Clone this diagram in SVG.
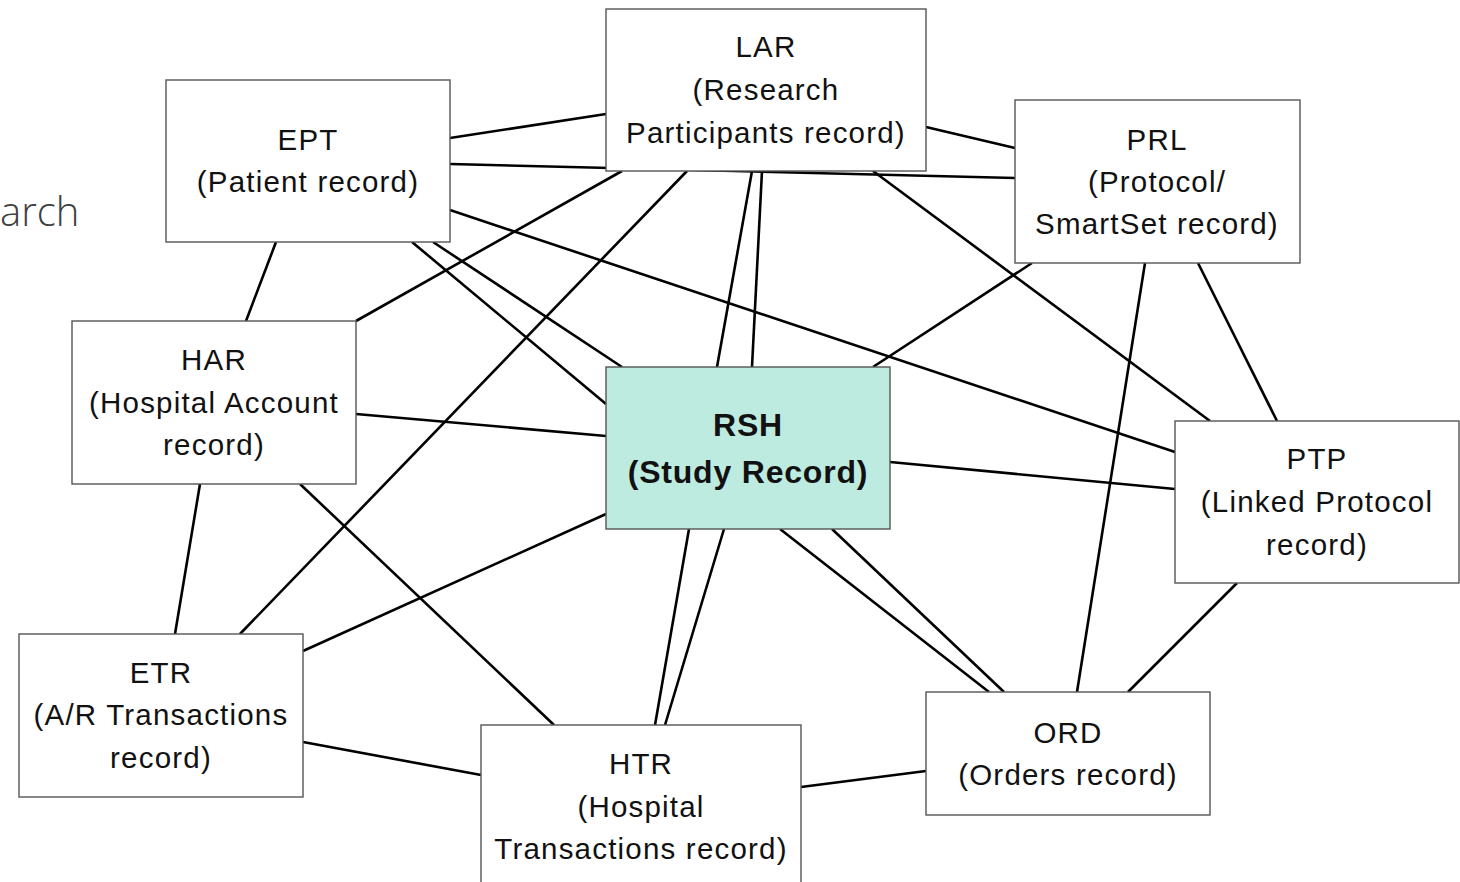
<svg xmlns="http://www.w3.org/2000/svg" width="1460" height="882" viewBox="0 0 1460 882">
<style>
.box{fill:#ffffff;stroke:#555555;stroke-width:1.4}
.hub{fill:#bdebe0;stroke:#555555;stroke-width:1.4}
.lbl{font-family:"Liberation Sans",Arial,sans-serif;font-size:29.5px;fill:#111111;text-anchor:middle;letter-spacing:1.2px}
.bold{font-weight:bold;font-size:32px;letter-spacing:0.8px}
.conn line{stroke:#000000;stroke-width:2.6;stroke-linecap:butt}
</style>
<rect width="1460" height="882" fill="#ffffff"/>
<text x="0" y="226" font-family="'Open Sans','Noto Sans',sans-serif" font-weight="300" font-size="40" fill="#404040">arch</text>
<g id="connectors" class="conn">
<line x1="450" y1="138" x2="606" y2="114"/>
<line x1="450" y1="164" x2="1015" y2="178"/>
<line x1="926" y1="127" x2="1015" y2="148"/>
<line x1="276" y1="242" x2="246" y2="321"/>
<line x1="412" y1="242" x2="606" y2="404"/>
<line x1="433" y1="242" x2="622" y2="367"/>
<line x1="356" y1="321" x2="622" y2="171"/>
<line x1="240" y1="634" x2="687" y2="171"/>
<line x1="752" y1="171" x2="717" y2="367"/>
<line x1="762" y1="171" x2="752" y2="367"/>
<line x1="873" y1="171" x2="1210" y2="421"/>
<line x1="450" y1="210" x2="1175" y2="452"/>
<line x1="873" y1="367" x2="1032" y2="263"/>
<line x1="1145" y1="263" x2="1077" y2="692"/>
<line x1="1198" y1="263" x2="1277" y2="421"/>
<line x1="356" y1="414" x2="606" y2="436"/>
<line x1="890" y1="462" x2="1175" y2="489"/>
<line x1="200" y1="484" x2="175" y2="634"/>
<line x1="300" y1="484" x2="554" y2="725"/>
<line x1="303" y1="651" x2="606" y2="514"/>
<line x1="303" y1="742" x2="481" y2="775"/>
<line x1="689" y1="529" x2="655" y2="725"/>
<line x1="724" y1="529" x2="665" y2="725"/>
<line x1="780" y1="529" x2="989" y2="692"/>
<line x1="832" y1="529" x2="1004" y2="692"/>
<line x1="801" y1="787" x2="926" y2="771"/>
<line x1="1237" y1="583" x2="1128" y2="692"/>
</g>
<g id="LAR">
<rect class="box" x="606" y="9" width="320" height="162"/>
<text class="lbl" x="766" y="57">LAR</text>
<text class="lbl" x="766" y="100">(Research</text>
<text class="lbl" x="766" y="143">Participants record)</text>
</g>
<g id="EPT">
<rect class="box" x="166" y="80" width="284" height="162"/>
<text class="lbl" x="308" y="150">EPT</text>
<text class="lbl" x="308" y="192">(Patient record)</text>
</g>
<g id="PRL">
<rect class="box" x="1015" y="100" width="285" height="163"/>
<text class="lbl" x="1157" y="150">PRL</text>
<text class="lbl" x="1157" y="192">(Protocol/</text>
<text class="lbl" x="1157" y="234">SmartSet record)</text>
</g>
<g id="HAR">
<rect class="box" x="72" y="321" width="284" height="163"/>
<text class="lbl" x="214" y="370">HAR</text>
<text class="lbl" x="214" y="413">(Hospital Account</text>
<text class="lbl" x="214" y="455">record)</text>
</g>
<g id="RSH">
<rect class="hub" x="606" y="367" width="284" height="162"/>
<text class="lbl bold" x="748" y="436">RSH</text>
<text class="lbl bold" x="748" y="483">(Study Record)</text>
</g>
<g id="PTP">
<rect class="box" x="1175" y="421" width="284" height="162"/>
<text class="lbl" x="1317" y="469">PTP</text>
<text class="lbl" x="1317" y="512">(Linked Protocol</text>
<text class="lbl" x="1317" y="555">record)</text>
</g>
<g id="ETR">
<rect class="box" x="19" y="634" width="284" height="163"/>
<text class="lbl" x="161" y="683">ETR</text>
<text class="lbl" x="161" y="725">(A/R Transactions</text>
<text class="lbl" x="161" y="768">record)</text>
</g>
<g id="HTR">
<rect class="box" x="481" y="725" width="320" height="170"/>
<text class="lbl" x="641" y="774">HTR</text>
<text class="lbl" x="641" y="817">(Hospital</text>
<text class="lbl" x="641" y="859">Transactions record)</text>
</g>
<g id="ORD">
<rect class="box" x="926" y="692" width="284" height="123"/>
<text class="lbl" x="1068" y="743">ORD</text>
<text class="lbl" x="1068" y="785">(Orders record)</text>
</g>
</svg>
